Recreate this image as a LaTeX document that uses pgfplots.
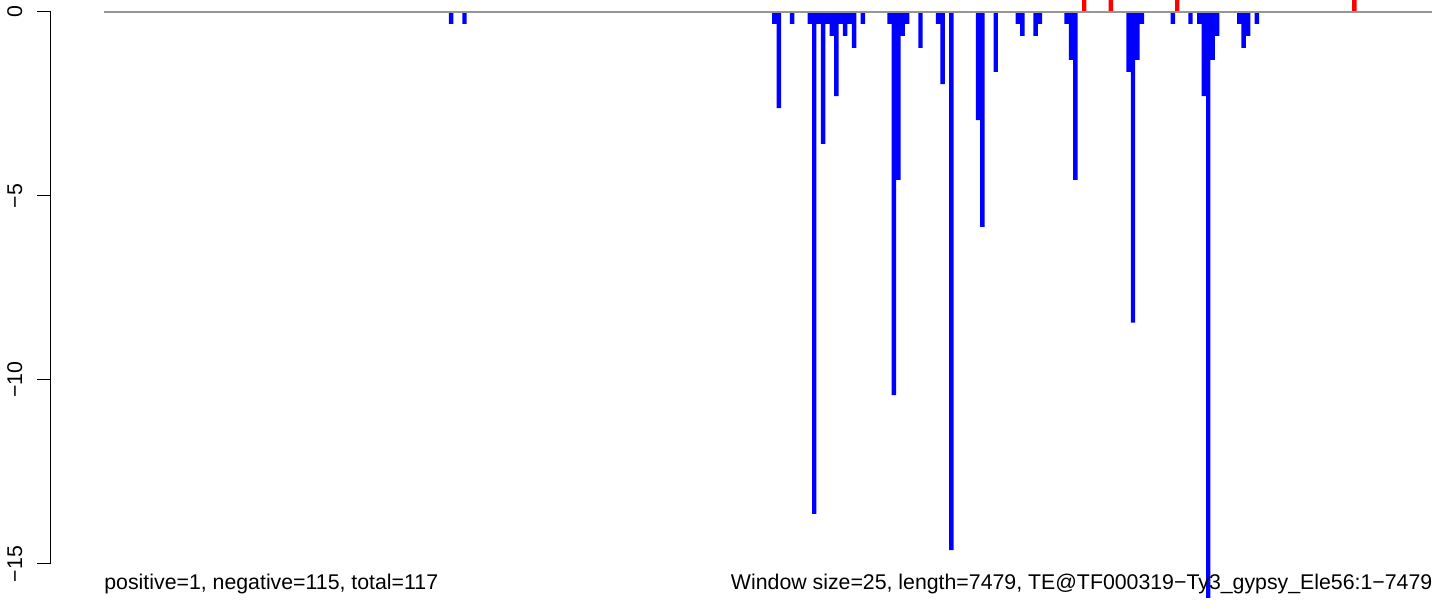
\documentclass[border=0pt]{standalone}
\usepackage{fontspec}
\setmainfont{Liberation Sans}
\usepackage{pgfplots}
\pgfplotsset{compat=1.18}
\definecolor{rblue}{RGB}{0,0,255}
\definecolor{rred}{RGB}{255,0,0}
\definecolor{basegray}{RGB}{150,150,150}
\begin{document}
\begin{tikzpicture}
\useasboundingbox (0,0) rectangle (722pt,304.5pt);
\begin{axis}[
  at={(25.35pt,0pt)}, anchor=south west,
  scale only axis, width=696.65pt, height=304.5pt,
  xmin=-299.2, xmax=7569, ymin=-16.223, ymax=0.326,
  hide axis, clip=false,
  ybar, bar width=25, bar shift=0pt,
]
\addplot[fill=rblue, draw=none] coordinates {
(1962.5,-0.326) (2037.5,-0.326)
(3787.5,-0.326) (3812.5,-2.609) (3887.5,-0.326)
(3987.5,-0.326) (4012.5,-13.64) (4037.5,-0.326) (4062.5,-3.587)
(4087.5,-0.326) (4112.5,-0.652) (4137.5,-2.283) (4162.5,-0.326)
(4187.5,-0.652) (4212.5,-0.326) (4237.5,-0.978) (4287.5,-0.326)
(4437.5,-0.326) (4462.5,-10.41) (4487.5,-4.565) (4512.5,-0.652)
(4537.5,-0.326) (4612.5,-0.978) (4712.5,-0.326) (4737.5,-1.957)
(4787.5,-14.62) (4937.5,-2.935) (4962.5,-5.84) (5037.5,-1.63)
(5162.5,-0.326) (5187.5,-0.652) (5262.5,-0.652) (5287.5,-0.326)
(5437.5,-0.326) (5462.5,-1.304) (5487.5,-4.565)
(5787.5,-1.63) (5812.5,-8.44) (5837.5,-1.304) (5862.5,-0.326)
(6037.5,-0.326) (6137.5,-0.326) (6187.5,-0.326) (6212.5,-2.283)
(6237.5,-15.92) (6262.5,-1.304) (6287.5,-0.652)
(6412.5,-0.326) (6437.5,-0.978) (6462.5,-0.652) (6512.5,-0.326)
};
\addplot[fill=rred, draw=none] coordinates {
(5537.5,0.326) (5687.5,0.326) (6062.5,0.326) (7062.5,0.326)
};
\draw[basegray, line width=0.6pt] (axis cs:0,0) -- (axis cs:7500,0);
\end{axis}
% y axis (R style)
\draw[line width=0.5pt] (25.35pt,{(609-564)*0.5pt}) -- (25.35pt,{(609-12)*0.5pt});
\foreach \py/\lab in {12/0,195.9/−5,379.9/−10,564/−15}{
  \draw[line width=0.5pt] (25.35pt,{(609-\py)*0.5pt}) -- (18.35pt,{(609-\py)*0.5pt});
  \node[rotate=90, anchor=base, inner sep=0pt, font=\fontsize{10.65pt}{12pt}\selectfont] at (11pt,{(609-\py)*0.5pt}) {\lab};
}
\node[anchor=base west, inner sep=0pt, font=\fontsize{10.65pt}{12pt}\selectfont] at (52pt,9.75pt) {positive=1, negative=115, total=117};
\node[anchor=base east, inner sep=0pt, font=\fontsize{10.65pt}{12pt}\selectfont] at (716.35pt,9.75pt) {Window size=25, length=7479, TE@TF000319−Ty3\_gypsy\_Ele56:1−7479};
\end{tikzpicture}
\end{document}
